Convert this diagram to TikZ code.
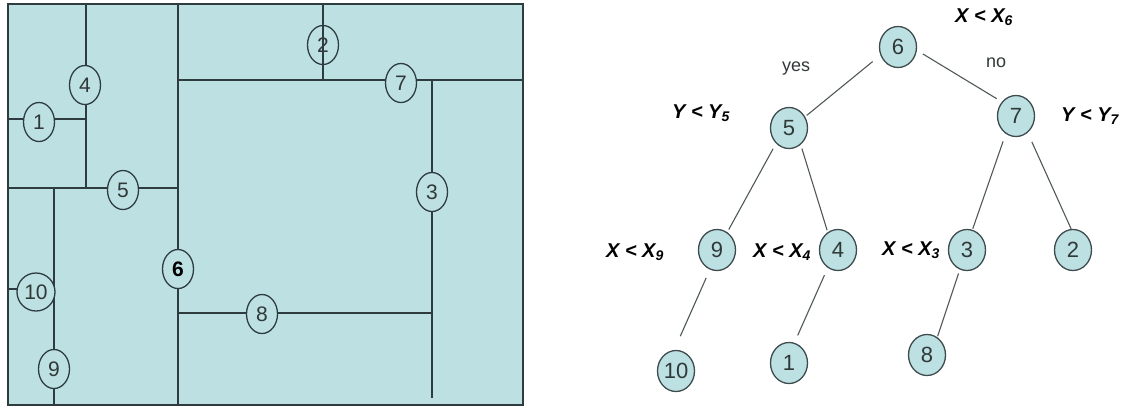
\documentclass[tikz,border=0pt]{standalone}
\usepackage{fontspec}
\setmainfont{Liberation Sans}
\usetikzlibrary{shapes.geometric}
\definecolor{panel}{HTML}{BDE0E3}
\definecolor{linec}{HTML}{2E3C40}
\definecolor{nodeb}{HTML}{3E4C4E}
\definecolor{edgec}{HTML}{505858}
\definecolor{txt}{HTML}{303838}
\tikzset{
  part/.style={draw=linec, line width=1.6pt},
  reg/.style={ellipse, draw=linec, line width=1.3pt, fill=panel, minimum width=31pt, minimum height=39pt, inner sep=0pt, font=\fontsize{21}{21}\selectfont, text=txt},
  tnode/.style={ellipse, draw=nodeb, line width=1.3pt, fill=panel, minimum width=37pt, minimum height=41pt, inner sep=0pt, font=\fontsize{22}{22}\selectfont, text=txt},
  tedge/.style={draw=edgec, line width=1.1pt},
  cond/.style={font=\fontsize{20}{20}\selectfont\bfseries\itshape, text=black},
  ans/.style={font=\fontsize{18}{18}\selectfont, text=txt},
}
\begin{document}
\begin{tikzpicture}[x=1pt,y=-1pt]
\useasboundingbox (0,0) rectangle (1135,408);
% ---------- left panel ----------
\fill[panel] (8,4) rectangle (523,405);
\coordinate (a1) at (178,4);   \coordinate (a2) at (178,405);
\coordinate (b1) at (178,80);  \coordinate (b2) at (523,80);
\coordinate (c1) at (323,4);   \coordinate (c2) at (323,80);
\coordinate (d1) at (432,80);  \coordinate (d2) at (432,398);
\coordinate (e1) at (178,313); \coordinate (e2) at (432,313);
\coordinate (f1) at (86,4);    \coordinate (f2) at (86,188);
\coordinate (g1) at (8,119);   \coordinate (g2) at (86,119);
\coordinate (h1) at (8,188);   \coordinate (h2) at (178,188);
\coordinate (i1) at (54,188);  \coordinate (i2) at (54,405);
\coordinate (j1) at (8,289);   \coordinate (j2) at (54,289);
\draw[part] (a1) -- (a2);
\draw[part] (b1) -- (b2);
\draw[part] (d1) -- (d2);
\draw[part] (e1) -- (e2);
\draw[part] (f1) -- (f2);
\draw[part] (g1) -- (g2);
\draw[part] (h1) -- (h2);
\draw[part] (i1) -- (i2);
\draw[part] (j1) -- (j2);
\node[reg] (L4) at (85,85) {4};
\node[reg] (L1) at (39,122) {1};
\node[reg] (L5) at (123,190) {5};
\node[reg, minimum width=38pt, minimum height=38pt] (L10) at (36,292) {10};
\node[reg] (L9) at (54,369) {9};
\node[reg, font=\fontsize{21}{21}\selectfont\bfseries, text=black] (L6) at (178,269) {6};
\node[reg] (L8) at (262,314) {8};
\node[reg] (L7) at (401,83) {7};
\node[reg] (L3) at (432,192) {3};
\node[reg, fill=none] (L2) at (323,45) {2};
\draw[part] (c1) -- (c2);
\draw[part] (8,4) rectangle (523,405);
% ---------- right tree ----------
\node[tnode] (n6) at (898,47) {6};
\node[tnode] (n5) at (789,128) {5};
\node[tnode] (n7) at (1016,116) {7};
\node[tnode] (n9) at (717,250) {9};
\node[tnode] (n4) at (838,250) {4};
\node[tnode] (n3) at (967,250) {3};
\node[tnode] (n2) at (1073,250) {2};
\node[tnode] (n10) at (676,371) {10};
\node[tnode] (n1) at (789,363) {1};
\node[tnode] (n8) at (927,355) {8};
\draw[tedge, shorten <=10pt, shorten >=2pt] (n6.205) -- (n5.35);
\draw[tedge, shorten <=7pt, shorten >=6pt] (n6.-10) -- (n7.135);
\draw[tedge, shorten <=6pt, shorten >=3pt] (n5.-130) -- (n9.60);
\draw[tedge, shorten <=4pt, shorten >=2pt] (n5.-55) -- (n4.120);
\draw[tedge, shorten <=8pt, shorten >=1pt] (n7.-120) -- (n3.75);
\draw[tedge, shorten <=10pt] (n7.-55) -- (n2.95);
\draw[tedge, shorten <=9pt, shorten >=15pt] (n9.-110) -- (n10.95);
\draw[tedge, shorten <=8pt, shorten >=8pt] (n4.-120) -- (n1.75);
\draw[tedge, shorten <=4pt, shorten >=1pt] (n3.-110) -- (n8.60);
\node[cond] (c6) at (984,17) {X < X\textsubscript{6}};
\node[cond] (c5) at (701,113) {Y < Y\textsubscript{5}};
\node[cond] (c7) at (1090,116) {Y < Y\textsubscript{7}};
\node[cond] (c9) at (635,252) {X < X\textsubscript{9}};
\node[cond] (c4) at (782,252) {X < X\textsubscript{4}};
\node[cond] (c3) at (911,250) {X < X\textsubscript{3}};
\node[ans] (yes) at (796,69) {yes};
\node[ans] (no) at (996,63) {no};
\end{tikzpicture}
\end{document}
